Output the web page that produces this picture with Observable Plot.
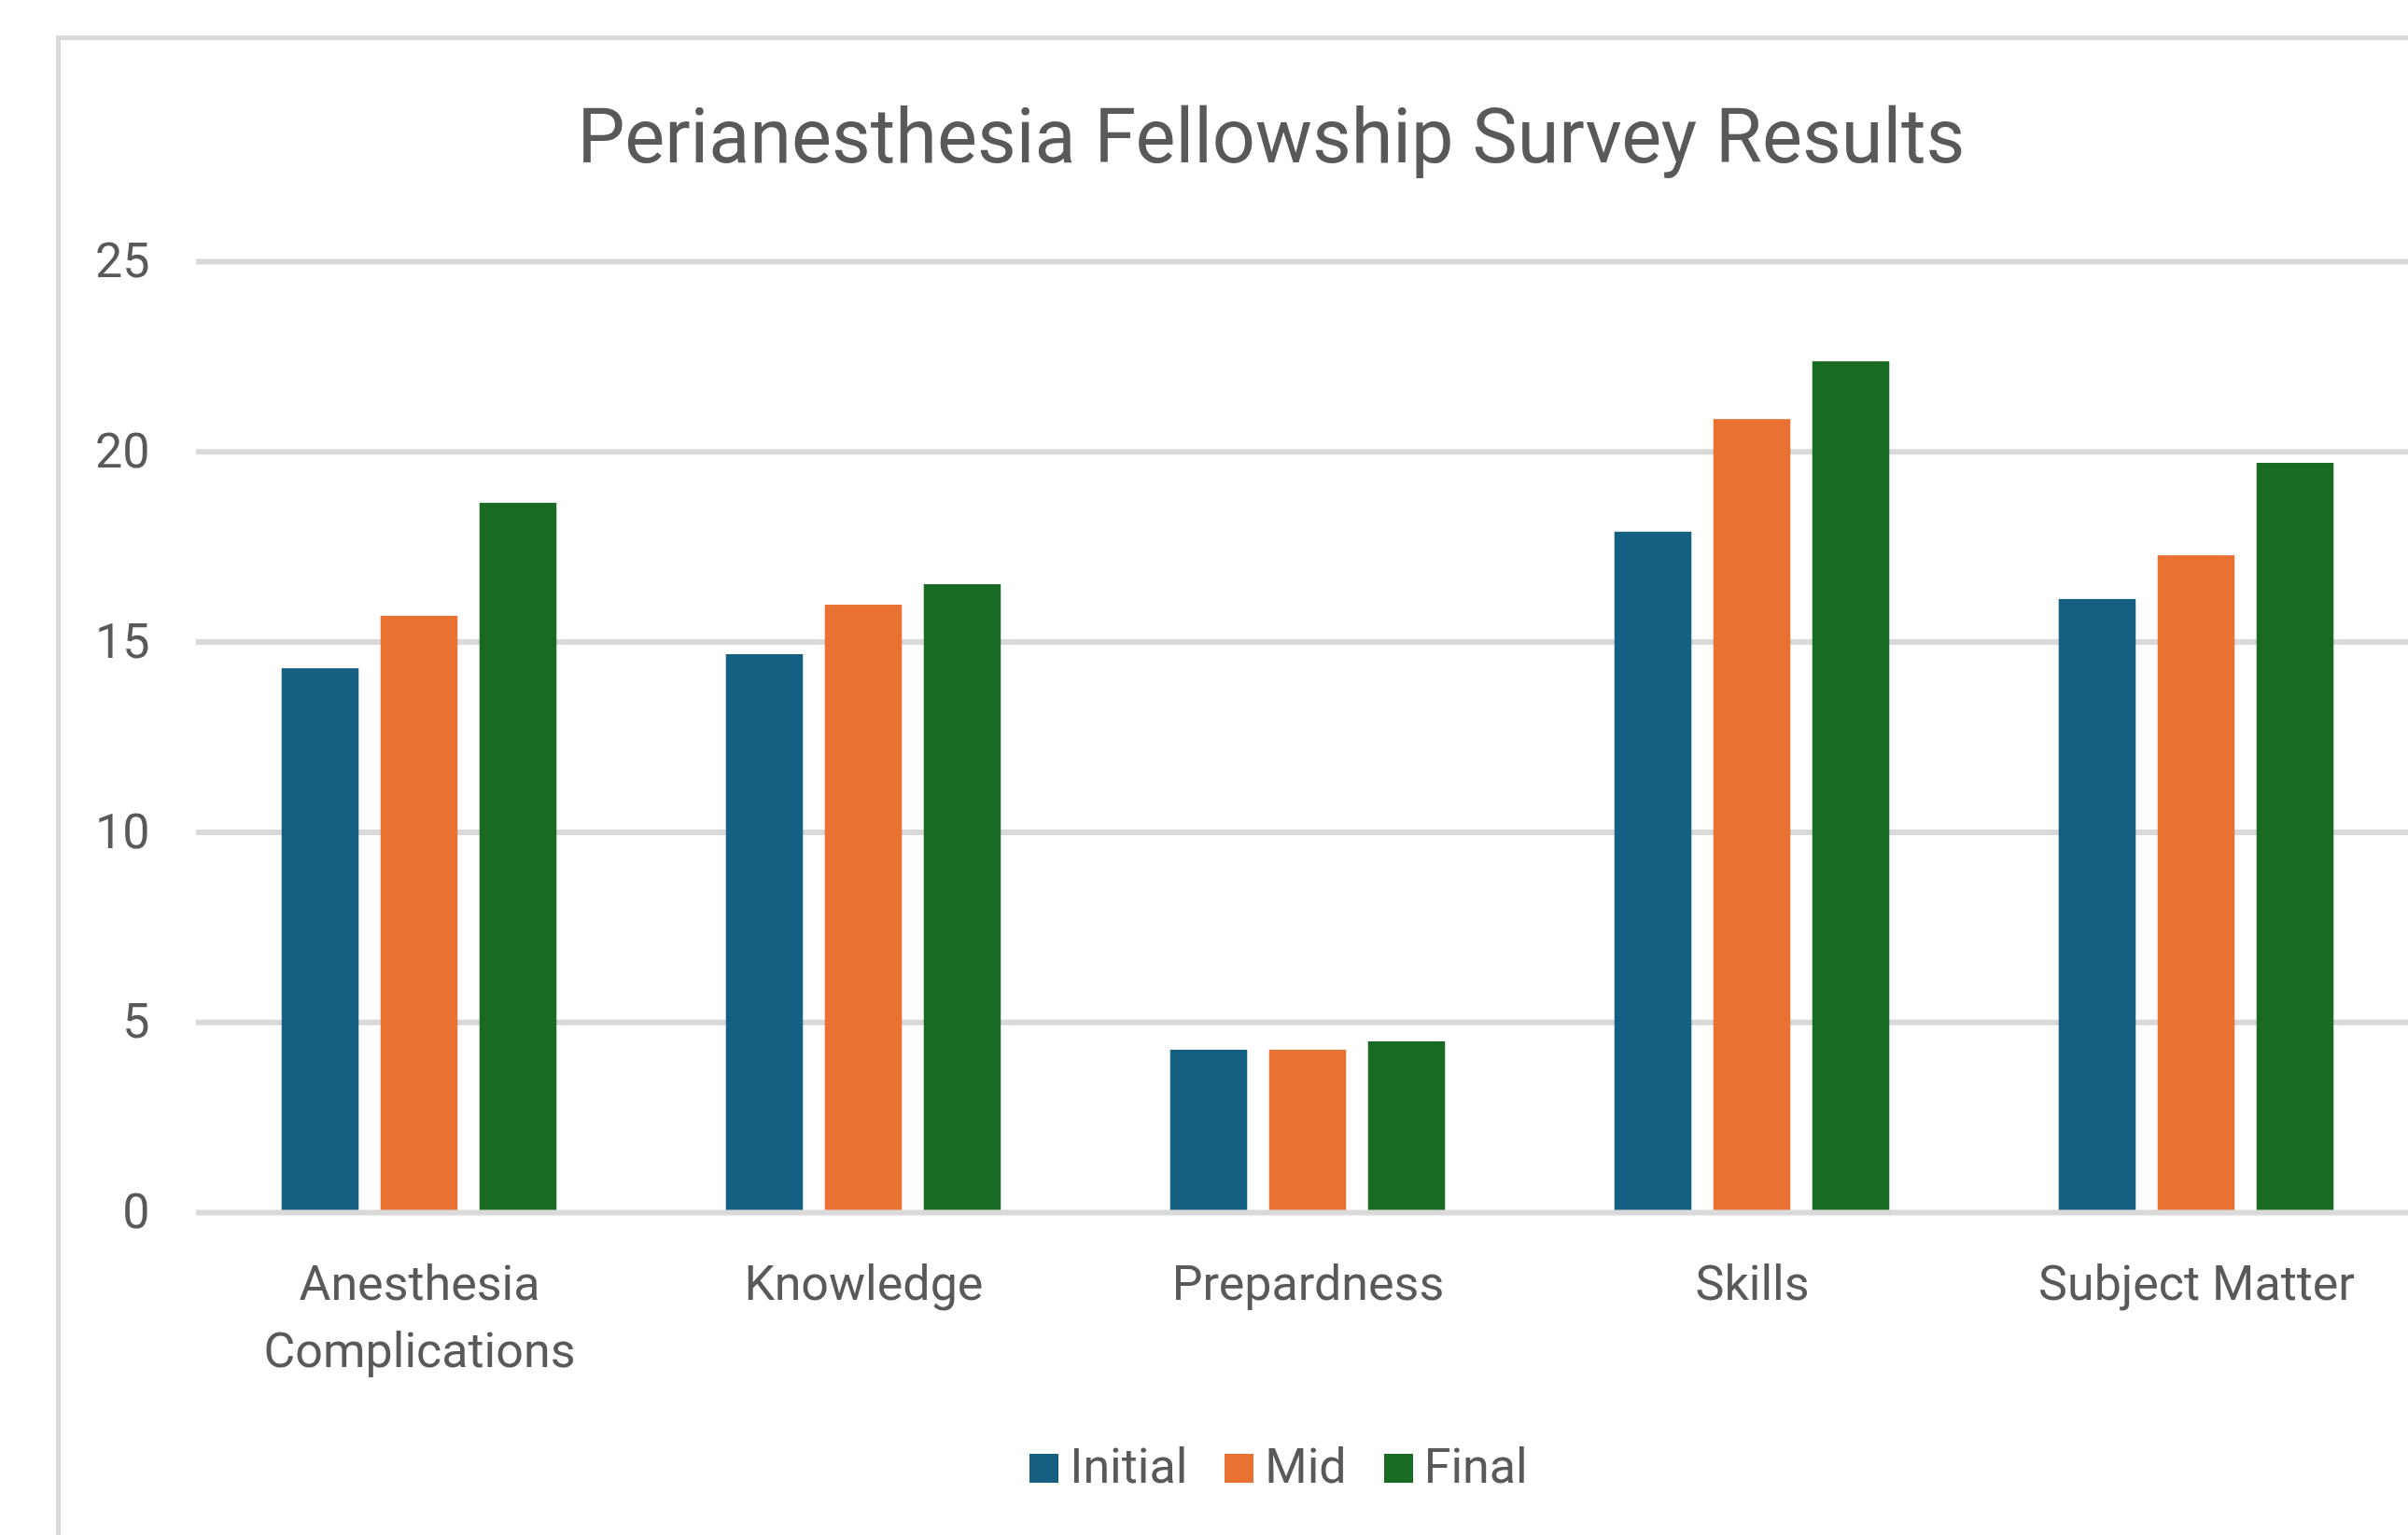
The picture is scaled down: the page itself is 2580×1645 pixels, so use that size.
<!DOCTYPE html>
<html><head><meta charset="utf-8">
<script src="https://cdn.jsdelivr.net/npm/d3@7"></script>
<script src="https://cdn.jsdelivr.net/npm/@observablehq/plot@0.6"></script>
<style>
html,body{margin:0;padding:0;background:#fff;overflow:hidden;width:2580px;height:1645px;position:relative;}
#frame{position:absolute;left:60px;top:38px;width:3000px;height:2000px;border:5px solid #d9d9d9;box-sizing:border-box;}
#title{position:absolute;top:106px;left:0;width:2724px;text-align:center;font-family:Roboto,sans-serif;font-size:81px;line-height:1;color:#595959;white-space:nowrap;}
#chart{position:absolute;left:0;top:0;}
#legend{position:absolute;top:1546px;left:0;width:2740px;text-align:center;font-family:Roboto,sans-serif;font-size:52px;line-height:1;color:#595959;white-space:nowrap;}
#legend .item{display:inline-block;}
#legend .item + .item{margin-left:40px;}
#legend .sw{display:inline-block;width:31px;height:31px;margin-right:12px;vertical-align:baseline;}
</style>
</head><body>
<div id="frame"></div>
<div id="chart"></div>
<div id="title">Perianesthesia Fellowship Survey Results</div>
<div id="legend"></div>
<script>
const categories = ["Anesthesia Complications", "Knowledge", "Prepardness", "Skills", "Subject Matter"];
const tickLabels = ["Anesthesia\nComplications", "Knowledge", "Prepardness", "Skills", "Subject Matter"];
const seriesNames = ["Initial", "Mid", "Final"];
const seriesColors = ["#156082", "#E97132", "#196B24"];
const initialValues = [14.30, 14.67, 4.27, 17.89, 16.12];
const midValues = [15.68, 15.97, 4.27, 20.85, 17.27];
const finalValues = [18.65, 16.51, 4.49, 22.37, 19.70];
const yTicks = [0, 5, 10, 15, 20, 25];

const seriesValues = [initialValues, midValues, finalValues];
const rows = [];
seriesNames.forEach((s, si) => categories.forEach((c, ci) => rows.push({category: c, series: s, value: seriesValues[si][ci]})));

const barWidth = 83, barGap = 23, step = 476.5;
const inset = (step - barWidth) / 2;

const barMarks = seriesNames.map((s, si) =>
  Plot.barY(rows.filter(r => r.series === s), {
    x: "category", y: "value", fill: seriesColors[si],
    insetLeft: inset, insetRight: inset, dx: (si - 1) * (barWidth + barGap)
  })
);

const chart = Plot.plot({
  width: 2580, height: 1520,
  marginLeft: 210, marginRight: 0, marginTop: 280, marginBottom: 221,
  style: {background: "transparent", fontFamily: "Roboto, sans-serif", color: "#595959", overflow: "visible"},
  x: {domain: categories, range: [210, 210 + step * categories.length], padding: 0, label: null},
  y: {domain: [0, 25], label: null},
  marks: [
    Plot.ruleY(yTicks.filter(t => t > 0), {stroke: "#d9d9d9", strokeWidth: 6}),
    ...barMarks,
    Plot.ruleY([0], {stroke: "#d9d9d9", strokeWidth: 6}),
    Plot.axisY(yTicks, {tickSize: 0, tickPadding: 50, fontSize: 52, fill: "#595959"}),
    Plot.axisX({tickSize: 0, tickPadding: 42, fontSize: 52, fill: "#595959", lineHeight: 1.385,
      tickFormat: d => tickLabels[categories.indexOf(d)]})
  ]
});
document.getElementById("chart").appendChild(chart);

const legend = document.getElementById("legend");
seriesNames.forEach((s, i) => {
  const item = document.createElement("span");
  item.className = "item";
  const sw = document.createElement("span");
  sw.className = "sw";
  sw.style.background = seriesColors[i];
  item.appendChild(sw);
  item.appendChild(document.createTextNode(s));
  legend.appendChild(item);
});
</script>
</body></html>
